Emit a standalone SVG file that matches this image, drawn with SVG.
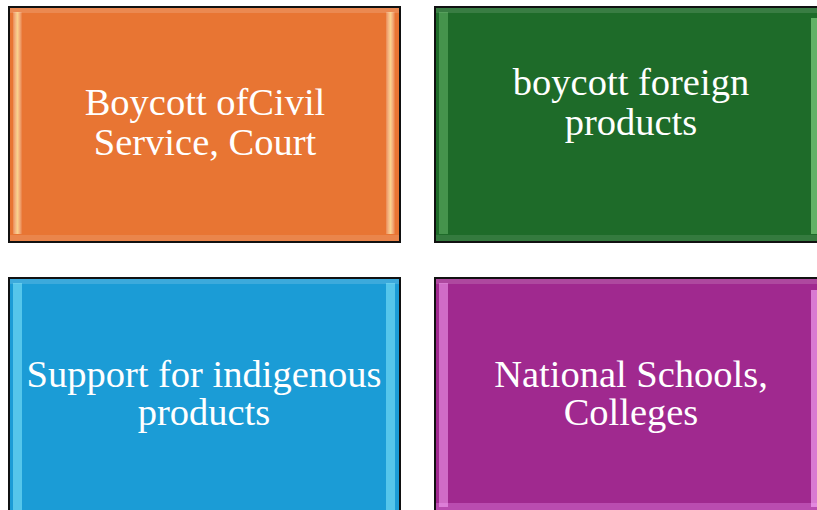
<svg xmlns="http://www.w3.org/2000/svg" width="817" height="510" viewBox="0 0 817 510">
<style>
.t{font-family:"Liberation Serif","Times New Roman",serif;font-size:38.5px;fill:#fff;text-anchor:middle}
.frame{stroke:#111;stroke-width:2}
</style>
<defs>
<linearGradient id="lh" x1="0" y1="0" x2="1" y2="0"><stop offset="0" stop-color="#fff" stop-opacity="0.15"/><stop offset="0.5" stop-color="#ffe8a0" stop-opacity="0.8"/><stop offset="1" stop-color="#fff" stop-opacity="0.05"/></linearGradient>
</defs>
<rect width="817" height="510" fill="#fff"/>
<g id="n1">
<rect class="frame" x="9" y="7" width="391" height="235" fill="#E87533"/>
<rect x="10" y="8" width="389" height="5" fill="#fff" opacity="0.15"/>
<rect x="10" y="235" width="389" height="6" fill="#fff" opacity="0.12"/>
<rect x="13" y="12" width="9" height="222" fill="url(#lh)"/>
<rect x="386" y="12" width="9" height="222" fill="url(#lh)"/>
<text class="t" x="205" y="115">Boycott ofCivil</text>
<text class="t" x="205" y="155">Service, Court</text>
</g>
<g id="n2">
<rect class="frame" x="435" y="7" width="390" height="235" fill="#1E6B29"/>
<rect x="436" y="8" width="390" height="5" fill="#fff" opacity="0.12"/>
<rect x="436" y="235" width="390" height="6" fill="#fff" opacity="0.1"/>
<rect x="439" y="12" width="9" height="222" fill="#8fe08f" opacity="0.35"/>
<rect x="811" y="18" width="6" height="216" fill="#8fe08f" opacity="0.6"/>
<text class="t" x="631" y="95">boycott foreign</text>
<text class="t" x="631" y="135">products</text>
</g>
<g id="n3">
<rect class="frame" x="9" y="278" width="391" height="240" fill="#1B9CD6"/>
<rect x="10" y="279" width="389" height="5" fill="#fff" opacity="0.15"/>
<rect x="13" y="283" width="9" height="230" fill="#8ff0ff" opacity="0.5"/>
<rect x="386" y="283" width="9" height="230" fill="#8ff0ff" opacity="0.5"/>
<text class="t" x="204" y="387">Support for indigenous</text>
<text class="t" x="204" y="425">products</text>
</g>
<g id="n4">
<rect class="frame" x="435" y="278" width="390" height="240" fill="#A0298F"/>
<rect x="436" y="279" width="390" height="5" fill="#fff" opacity="0.15"/>
<rect x="436" y="503" width="390" height="7" fill="#f7a0ff" opacity="0.3"/>
<rect x="439" y="283" width="9" height="224" fill="#ffb0ff" opacity="0.5"/>
<rect x="811" y="290" width="6" height="217" fill="#ffb0ff" opacity="0.6"/>
<text class="t" x="631" y="387">National Schools,</text>
<text class="t" x="631" y="425">Colleges</text>
</g>
<g id="connectors"/>
</svg>
